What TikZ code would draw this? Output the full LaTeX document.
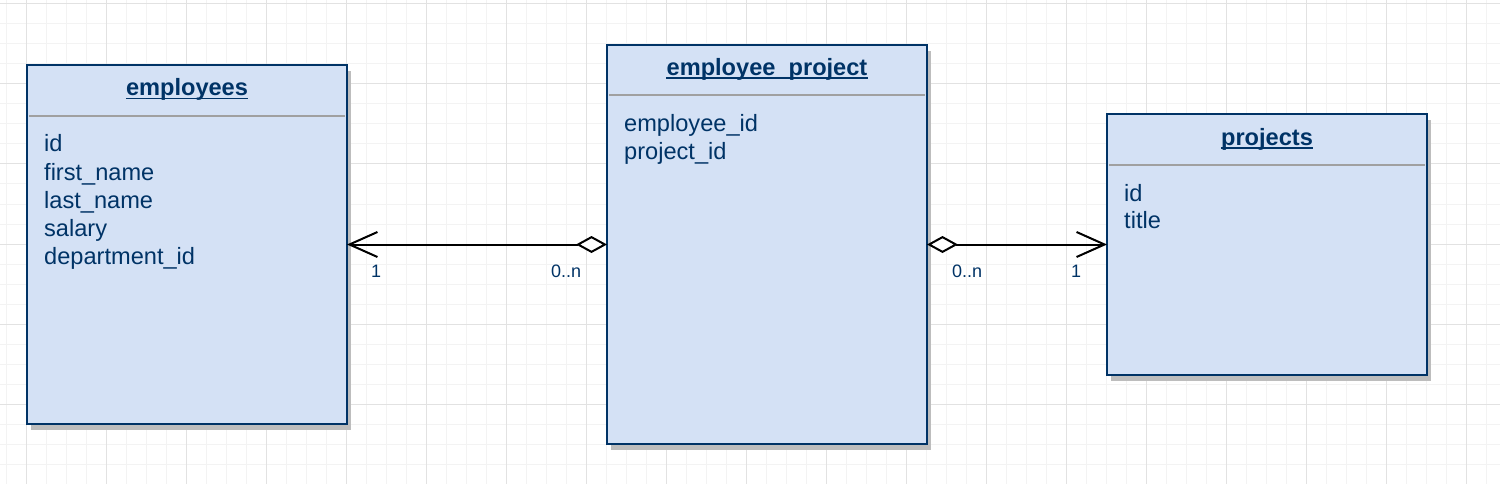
\documentclass[tikz,border=0pt]{standalone}
\usepackage{fontspec}
\setmainfont{Liberation Sans}
\usetikzlibrary{arrows.meta,shadows}
\definecolor{boxfill}{HTML}{D4E1F5}
\definecolor{navy}{HTML}{003366}
\definecolor{gridmin}{HTML}{F3F3F3}
\definecolor{gridmaj}{HTML}{E2E2E2}
\definecolor{sepgray}{HTML}{A0A0A0}
\definecolor{shadowgray}{HTML}{BDBDBD}
\begin{document}
\begin{tikzpicture}[x=1pt,y=-1pt,
  entity/.style={draw=navy,line width=2pt,fill=boxfill,rectangle,inner sep=0pt,outer sep=0pt,
    drop shadow={shadow xshift=4pt,shadow yshift=-6pt,fill=shadowgray,opacity=1}},
  headtxt/.style={inner sep=0pt,anchor=base,text=navy,font=\fontsize{23.6}{28}\selectfont\bfseries},
  fieldtxt/.style={inner sep=0pt,anchor=base west,text=navy,font=\fontsize{23.6}{28}\selectfont},
  cardtxt/.style={inner sep=0pt,anchor=base west,text=navy,font=\fontsize{18}{20}\selectfont},
  sepline/.style={draw=sepgray,line width=1.6pt},
  uline/.style={draw=navy,line width=1.6pt},
  rel/.style={draw=black,line width=2pt}
]
\useasboundingbox (0,0) rectangle (1500,484);
\fill[white] (0,0) rectangle (1500,484);
% grid
\foreach \i in {0,...,75} {\draw[gridmin,line width=1pt] ({6.67+20*\i},0) -- ({6.67+20*\i},484);}
\foreach \j in {0,...,24} {\draw[gridmin,line width=1pt] (0,{4+20*\j}) -- (1500,{4+20*\j});}
\foreach \i in {0,...,18} {\draw[gridmaj,line width=1pt] ({26.67+80*\i},0) -- ({26.67+80*\i},484);}
\foreach \j in {0,...,6} {\draw[gridmaj,line width=1pt] (0,{4+80*\j}) -- (1500,{4+80*\j});}

% entities
\node[entity,minimum width=320pt,minimum height=359pt] (emp) at (187,244.5) {};
\node[entity,minimum width=320pt,minimum height=399pt] (ep) at (767,244.5) {};
\node[entity,minimum width=320pt,minimum height=260pt] (proj) at (1267,244.5) {};

% header separators
\draw[sepline] ([xshift=2pt,yshift=-51pt]emp.north west) -- ([xshift=-2pt,yshift=-51pt]emp.north east);
\draw[sepline] ([xshift=2pt,yshift=-50pt]ep.north west) -- ([xshift=-2pt,yshift=-50pt]ep.north east);
\draw[sepline] ([xshift=2pt,yshift=-50.5pt]proj.north west) -- ([xshift=-2pt,yshift=-50.5pt]proj.north east);

% headers
\node[headtxt] (hemp) at (187,96) {employees};
\node[headtxt] (hep) at (767,75.5) {employee\_project};
\node[headtxt] (hproj) at (1267,145.5) {projects};
\draw[uline] ([yshift=-2.5pt]hemp.base west) -- ([yshift=-2.5pt]hemp.base east);
\draw[uline] ([yshift=-2.5pt]hep.base west) -- ([yshift=-2.5pt]hep.base east);
\draw[uline] ([yshift=-2.5pt]hproj.base west) -- ([yshift=-2.5pt]hproj.base east);

% fields
\node[fieldtxt] (f1) at (44,152) {id};
\node[fieldtxt] (f2) at (44,180) {first\_name};
\node[fieldtxt] (f3) at (44,208) {last\_name};
\node[fieldtxt] (f4) at (44,236) {salary};
\node[fieldtxt] (f5) at (44,264) {department\_id};
\node[fieldtxt] (g1) at (624,132) {employee\_id};
\node[fieldtxt] (g2) at (624,160) {project\_id};
\node[fieldtxt] (p1) at (1124,201) {id};
\node[fieldtxt] (p2) at (1124,229) {title};

% relations
\draw[rel,{Straight Barb[length=28pt,width=25pt,line width=2pt]}-{Diamond[open,fill=white,length=31pt,width=17pt,line width=2pt]}] (emp.east) -- (ep.west);
\draw[rel,{Diamond[open,fill=white,length=31pt,width=17pt,line width=2pt]}-{Straight Barb[length=28pt,width=25pt,line width=2pt]}] (ep.east) -- (proj.west);

% cardinalities
\node[cardtxt] (c1) at (371,277) {1};
\node[cardtxt] (c2) at (551,277) {0..n};
\node[cardtxt] (c3) at (952,277) {0..n};
\node[cardtxt] (c4) at (1071,277) {1};
\end{tikzpicture}
\end{document}
